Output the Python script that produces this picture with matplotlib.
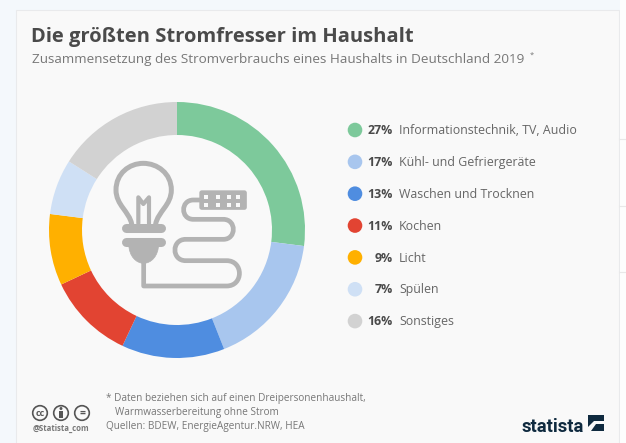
import matplotlib
matplotlib.use("Agg")
from matplotlib import pyplot as plt
from matplotlib.patches import Circle, Rectangle, FancyBboxPatch, Polygon, PathPatch
from matplotlib.path import Path

categories = ["Informationstechnik, TV, Audio", "Kühl- und Gefriergeräte",
              "Waschen und Trocknen", "Kochen", "Licht", "Spülen", "Sonstiges"]
values = [27, 17, 13, 11, 9, 7, 16]
colors = ["#7dc99b", "#a8c6ee", "#4f8de0", "#e24432", "#ffb000", "#cfe0f5", "#d2d2d2"]

DARK = "#4a4a4a"
TEXT = "#666666"
ICON = "#b3b3b3"
PANEL = "#f9f9f9"
NAVY = "#0f2a3f"

plt.rcParams["font.family"] = ["Open Sans", "DejaVu Sans"]


def zx(x):
    return 90 + x / 3


def zy(y):
    return 140 + y / 3


def stroke(ax, pts, width=3.4):
    ax.plot([zx(p[0]) for p in pts], [zy(p[1]) for p in pts], color=ICON,
            lw=width, solid_capstyle="round", solid_joinstyle="round", zorder=5)


def curve(ax, verts, codes, width=3.4):
    verts = [(zx(v[0]), zy(v[1])) for v in verts]
    ax.add_patch(PathPatch(Path(verts, codes), fc="none", ec=ICON, lw=width,
                           capstyle="round", joinstyle="round", zorder=5))


def draw_icon(ax):
    M, L, C = Path.MOVETO, Path.LINETO, Path.CURVE4
    # bulb
    curve(ax, [(125, 252), (118, 215), (78, 195), (78, 150), (78, 100), (118, 70),
               (160, 70), (202, 70), (244, 100), (244, 150), (244, 195), (204, 215),
               (197, 252)],
          [M, C, C, C, C, C, C, C, C, C, C, C, C], 3.6)
    stroke(ax, [(145, 250), (145, 172), (160, 192), (177, 172), (177, 250)], 3.0)
    stroke(ax, [(108, 265), (214, 265)], 6.5)
    # plug
    stroke(ax, [(108, 305), (214, 305)], 6.5)
    verts = [(116, 310), (116, 350), (140, 370), (161, 370), (182, 370), (206, 350), (206, 310), (116, 310)]
    ax.add_patch(PathPatch(Path([(zx(a), zy(b)) for a, b in verts],
                                [M, C, C, C, C, C, C, Path.CLOSEPOLY]),
                           fc=ICON, ec=ICON, lw=0.5, zorder=5))
    # cable
    curve(ax, [(161, 365), (161, 438), (410, 438), (461, 438), (461, 362), (410, 362),
               (287, 362), (244, 362), (244, 298), (287, 298), (400, 298), (440, 298),
               (440, 238), (400, 238), (310, 238), (271, 238), (271, 180), (310, 180),
               (330, 180)],
          [M, L, L, C, C, C, L, C, C, C, L, C, C, C, L, C, C, C, L], 3.4)
    # power strip
    ax.add_patch(FancyBboxPatch((zx(328), zy(151)), 47.5, 19.5, boxstyle="round,pad=0,rounding_size=2.5",
                                fc=ICON, ec="none", zorder=5))
    for hx in [348, 384, 416, 445]:
        for hy in [170, 195]:
            ax.add_patch(Rectangle((zx(hx) - 2, zy(hy) - 2), 4, 4, fc=PANEL, ec="none", zorder=6))


def draw_cc(ax, x, y):
    ax.add_patch(Circle((x, y), 7.3, fc="none", ec="#555555", lw=1.2, zorder=5))


def main():
    fig = plt.figure(figsize=(6.26, 4.43), dpi=100, facecolor="#f4f8fc")

    bg = fig.add_axes([0, 0, 1, 1])
    bg.set_xlim(0, 626)
    bg.set_ylim(443, 0)
    bg.axis("off")
    bg.add_patch(Rectangle((16, 10), 603, 440, fc=PANEL, ec="#e9eaec", lw=0.8))
    bg.add_patch(Rectangle((619.5, 0), 7, 443, fc="#fdfdfd", ec="none"))
    for y in [139, 206, 272]:
        bg.plot([619, 626], [y, y], color="#e8e8e8", lw=0.8)

    # donut
    cx, cy, r = 177, 230, 128
    pie_ax = fig.add_axes([(cx - r) / 626, 1 - (cy + r) / 443, 2 * r / 626, 2 * r / 443])
    pie_ax.pie(values, colors=colors, startangle=90, counterclock=False, radius=1,
               wedgeprops={"width": 33 / 128, "linewidth": 0})
    pie_ax.set_xlim(-1, 1)
    pie_ax.set_ylim(-1, 1)

    fg = fig.add_axes([0, 0, 1, 1])
    fg.set_xlim(0, 626)
    fg.set_ylim(443, 0)
    fg.axis("off")
    fg.patch.set_alpha(0)
    draw_icon(fg)

    fg.text(31, 37, "Die größten Stromfresser im Haushalt", fontsize=14.5, fontweight="bold",
            color=DARK, va="center")
    fg.text(32, 59.5, "Zusammensetzung des Stromverbrauchs eines Haushalts in Deutschland 2019", fontsize=9.7,
            color="#777777", va="center")
    fg.text(530, 55.5, "*", fontsize=5.5, color="#777777", va="center")

    # legend
    for i, cat in enumerate(categories):
        y = 130 + i * 31.85
        fg.add_patch(Circle((355, y), 7.3, fc=colors[i], ec="none"))
        fg.text(392.5, y + 0.6, f"{values[i]}%", fontsize=8.9, fontweight="bold", color=DARK, ha="right", va="center")
        fg.text(399, y + 0.6, cat, fontsize=8.95, color=TEXT, va="center")

    # footer
    draw_cc(fg, 40, 413)
    draw_cc(fg, 61, 413)
    draw_cc(fg, 82, 413)
    fg.text(40, 413, "cc", fontsize=6.5, fontweight="bold", color="#555555", ha="center", va="center")
    fg.add_patch(Circle((61, 408.5), 1.5, fc="#555555", ec="none"))
    fg.add_patch(Rectangle((59, 411), 4, 7, fc="#555555", ec="none"))
    fg.text(82, 413, "=", fontsize=7.5, fontweight="bold", color="#555555", ha="center", va="center")
    fg.text(33, 428, "@Statista_com", fontsize=5.6, fontweight="bold", color="#777777", va="center")
    fg.text(106, 398, "* Daten beziehen sich auf einen Dreipersonenhaushalt,", fontsize=7.2, color="#777777", va="center")
    fg.text(115, 412, "Warmwasserbereitung ohne Strom", fontsize=7.2, color="#777777", va="center")
    fg.text(106, 427, "Quellen: BDEW, EnergieAgentur.NRW, HEA", fontsize=7.2, color="#777777", va="center")
    fg.text(522, 431.5, "statista", fontsize=13.2, fontweight="bold", color=NAVY, va="baseline",
            family="Roboto")
    fg.add_patch(Rectangle((588, 415), 16, 16, fc=NAVY, ec="none"))
    fg.add_patch(Polygon([(588, 431), (588, 427), (594, 421), (604, 421), (604, 424), (596, 424), (591, 431)],
                         fc=PANEL, ec="none"))

    fig.savefig("out.png", dpi=100, facecolor=fig.get_facecolor())


if __name__ == "__main__":
    main()
